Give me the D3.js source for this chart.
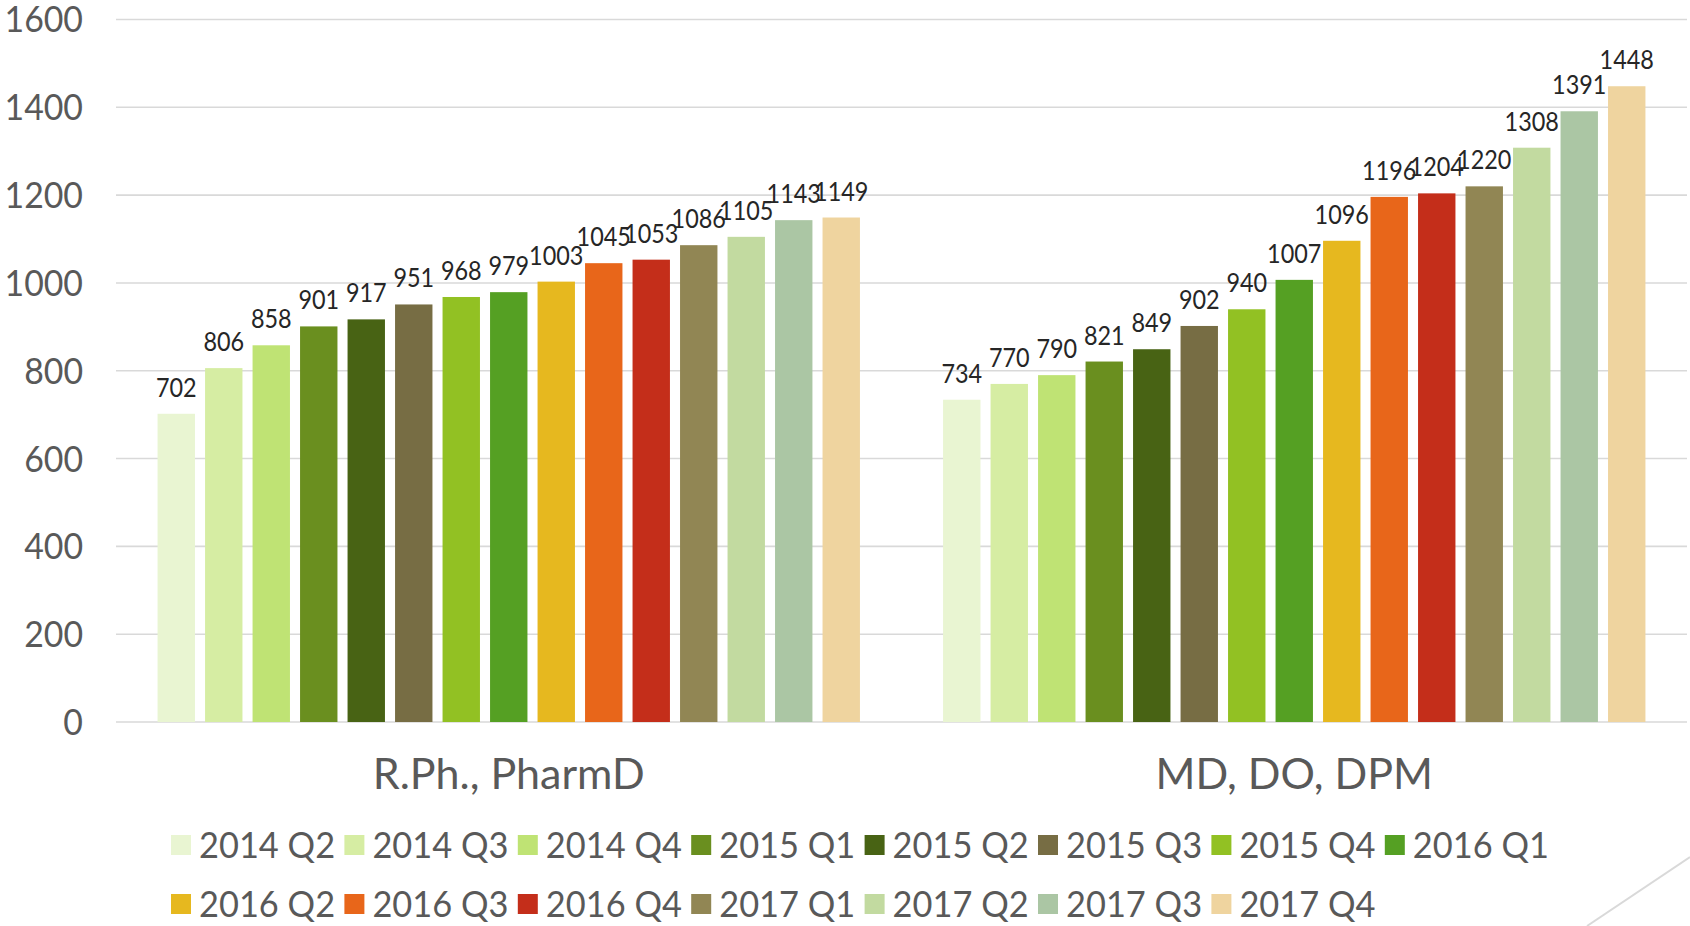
<!DOCTYPE html>
<html>
<head>
<meta charset="utf-8">
<script src="https://cdn.jsdelivr.net/npm/d3@7/dist/d3.min.js"></script>
<style>
  html, body { margin: 0; padding: 0; background: #ffffff; }
  svg { display: block; }
  text { font-family: Lato, Roboto, "Noto Sans", sans-serif; }
</style>
</head>
<body>
<svg id="chart" width="1690" height="926"></svg>
<script>
const categories = ["R.Ph., PharmD", "MD, DO, DPM"];
const seriesNames = ["2014 Q2", "2014 Q3", "2014 Q4", "2015 Q1", "2015 Q2", "2015 Q3", "2015 Q4", "2016 Q1",
                     "2016 Q2", "2016 Q3", "2016 Q4", "2017 Q1", "2017 Q2", "2017 Q3", "2017 Q4"];
const pharmValues = [702, 806, 858, 901, 917, 951, 968, 979, 1003, 1045, 1053, 1086, 1105, 1143, 1149];
const mdValues    = [734, 770, 790, 821, 849, 902, 940, 1007, 1096, 1196, 1204, 1220, 1308, 1391, 1448];
const seriesColors = ["#E9F5D2", "#D6EDA3", "#BFE374", "#6A8F1F", "#486314", "#776D44", "#92C123", "#55A023",
                      "#E6B81F", "#E8661A", "#C42E1A", "#918654", "#C2DAA0", "#ABC6A4", "#EFD49F"];
const yTicks = [0, 200, 400, 600, 800, 1000, 1200, 1400, 1600];

const valuesByCategory = [pharmValues, mdValues];
const data = categories.map((c, ci) => ({
  category: c,
  values: seriesNames.map((s, si) => ({ series: s, value: valuesByCategory[ci][si] }))
}));

const svg = d3.select("#chart");

const x0 = d3.scaleBand().domain(categories).range([116, 1687]).paddingInner(0).paddingOuter(0);
const x1 = d3.scaleBand().domain(seriesNames).range([0, x0.bandwidth()]).paddingInner(0.2126).paddingOuter(0.875);
const y = d3.scaleLinear().domain([0, 1600]).range([722, 19.5]);
const color = d3.scaleOrdinal().domain(seriesNames).range(seriesColors);

// gridlines
svg.append("g").selectAll("line").data(yTicks).join("line")
  .attr("x1", 116).attr("x2", 1687)
  .attr("y1", d => y(d)).attr("y2", d => y(d))
  .attr("stroke", "#D9D9D9").attr("stroke-width", 1.6);

// y tick labels (slightly condensed)
svg.append("g").selectAll("text").data(yTicks).join("text")
  .attr("transform", d => `translate(83,${y(d)}) scale(0.94,1)`)
  .attr("dy", "0.36em")
  .attr("text-anchor", "end")
  .attr("font-size", 36)
  .attr("fill", "#595959")
  .text(d => d);

// bars
const groups = svg.append("g").selectAll("g").data(data).join("g")
  .attr("transform", d => `translate(${x0(d.category)},0)`);

groups.selectAll("rect").data(d => d.values).join("rect")
  .attr("x", d => x1(d.series))
  .attr("width", x1.bandwidth())
  .attr("y", d => y(d.value))
  .attr("height", d => y(0) - y(d.value))
  .attr("fill", d => color(d.series));

// data labels
groups.selectAll("text").data(d => d.values).join("text")
  .attr("transform", d => `translate(${x1(d.series) + x1.bandwidth() / 2},${y(d.value) - 17}) scale(0.9,1)`)
  .attr("text-anchor", "middle")
  .attr("font-size", 26)
  .attr("fill", "#262626")
  .text(d => d.value);

// category labels
svg.append("g").selectAll("text").data(categories).join("text")
  .attr("x", d => x0(d) + x0.bandwidth() / 2)
  .attr("y", 774)
  .attr("dy", "0.36em")
  .attr("text-anchor", "middle")
  .attr("font-size", 43)
  .attr("fill", "#595959")
  .text(d => d);

// legend
const legend = svg.append("g").selectAll("g").data(seriesNames).join("g")
  .attr("transform", (d, i) => `translate(${171 + (i % 8) * 173.4},${i < 8 ? 845 : 904})`);
legend.append("rect")
  .attr("x", 0).attr("y", -10).attr("width", 20).attr("height", 20)
  .attr("fill", d => color(d));
legend.append("text")
  .attr("transform", "translate(28,0) scale(0.93,1)")
  .attr("dy", "0.36em")
  .attr("font-size", 37)
  .attr("fill", "#595959")
  .text(d => d);

// decorative corner line
svg.append("line")
  .attr("x1", 1690).attr("y1", 857).attr("x2", 1587).attr("y2", 926)
  .attr("stroke", "#D9D9D9").attr("stroke-width", 2);
</script>
</body>
</html>
